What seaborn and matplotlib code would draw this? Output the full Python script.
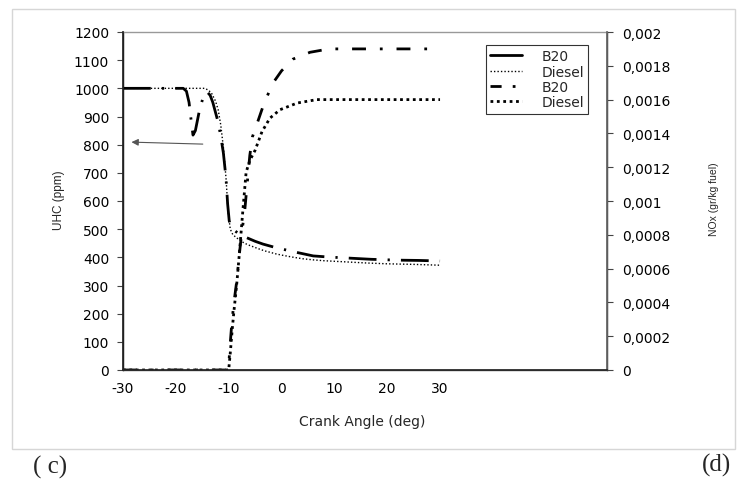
import matplotlib
matplotlib.use("Agg")
import matplotlib.pyplot as plt
import seaborn as sns
from matplotlib.lines import Line2D
from matplotlib.patches import Rectangle

# UHC curves (left axis, ppm)
uhc_b20_x = [-30, -20, -18.6, -18, -17.5, -17, -16.75, -16.3, -15.5, -14.8, -14.1, -13.5, -13, -12.5,
             -12, -11.5, -11, -10.5, -10.2, -9.9, -9.6, -9.2, -8, -7, -6, -5, -3.5, -1, 0, 2, 3.5,
             6, 9, 13, 17, 22, 26, 30]
uhc_b20_y = [1000, 1000, 1000, 990, 950, 870, 834, 850, 925, 970, 988, 975, 950, 915,
             880, 830, 770, 680, 590, 530, 507, 500, 482, 473, 465, 457, 447, 434, 430, 421, 415,
             405, 401, 397, 393, 390, 389, 387]

uhc_diesel_x = [-30, -20, -14.5, -14, -13.3, -12.5, -12, -11.5, -11, -10.5, -10.1, -9.7, -9.2, -8,
                -7, -6, -5, -4, -3, -2, -1, 0, 2, 4, 6, 8, 10, 13, 16, 20, 25, 30]
uhc_diesel_y = [1000, 1000, 1000, 995, 985, 955, 925, 870, 790, 680, 560, 500, 480, 462,
                450, 442, 435, 428, 422, 417, 412, 408, 401, 395, 391, 388, 386, 383, 380, 377, 375, 372]

# NOx curves (right axis, gr/kg fuel)
nox_b20_x = [-30, -20, -10.2, -10, -9.8, -9.4, -9, -8.5, -8, -7.5, -7, -6.5, -6, -5.5, -4.6, -3.5,
             -2.7, -1.8, 0, 2.2, 5.4, 9, 15, 20, 25, 30]
nox_b20_y = [0, 0, 0, 0.00002, 0.00012, 0.00028, 0.00040, 0.00052, 0.00068, 0.00082, 0.00093,
             0.00110, 0.00127, 0.00138, 0.00146, 0.00156, 0.00162, 0.00169, 0.00177, 0.00184,
             0.00188, 0.00190, 0.00190, 0.00190, 0.00190, 0.00190]

nox_diesel_x = [-30, -20, -10, -9.7, -9.3, -9, -8.5, -8, -7.3, -6.7, -6, -5, -3.7, -2.2, -0.3, 3,
                6.7, 10, 15, 20, 25, 30]
nox_diesel_y = [0, 0, 0, 0.0001, 0.00025, 0.00035, 0.0005, 0.00068, 0.00095, 0.00117, 0.00124,
                0.0013, 0.00141, 0.00149, 0.00154, 0.00158, 0.0016, 0.0016, 0.0016, 0.0016,
                0.0016, 0.0016]

x_ticks = [-30, -20, -10, 0, 10, 20, 30, 40, 50, 60]
x_ticklabels = ["-30", "-20", "-10", "0", "10", "20", "30", "", "", ""]
uhc_ticks = list(range(0, 1201, 100))
nox_ticks = [0, 0.0002, 0.0004, 0.0006, 0.0008, 0.001, 0.0012, 0.0014, 0.0016, 0.0018, 0.002]
nox_ticklabels = ["0", "0,0002", "0,0004", "0,0006", "0,0008", "0,001", "0,0012",
                  "0,0014", "0,0016", "0,0018", "0,002"]
legend_labels = ["B20", "Diesel", "B20", "Diesel"]

sns.set_theme(style="white")
plt.rcParams["font.family"] = ["Liberation Sans", "DejaVu Sans"]
W, H = 737, 485

fig = plt.figure(figsize=(W / 100, H / 100), dpi=100)
ax = fig.add_axes([123 / W, 1 - 371 / H, (607 - 123) / W, (371 - 33) / H])
ax2 = ax.twinx()

# outer light frame
fig.patches.append(Rectangle((12 / W, 1 - 450 / H), 735 / W - 12 / W, (450 - 10) / H,
                             transform=fig.transFigure, fill=False, edgecolor="#d6d6d6", lw=1))

s_b20 = (0, (10, 4, 0.8, 4))
s_nox_b20 = (0, (5, 5, 1, 5))

sns.lineplot(x=uhc_b20_x, y=uhc_b20_y, ax=ax, color="black", lw=2, linestyle=s_b20)
sns.lineplot(x=uhc_diesel_x, y=uhc_diesel_y, ax=ax, color="black", lw=1, linestyle=(0, (1, 1.5)))
sns.lineplot(x=nox_b20_x, y=nox_b20_y, ax=ax2, color="black", lw=2, linestyle=s_nox_b20)
sns.lineplot(x=nox_diesel_x, y=nox_diesel_y, ax=ax2, color="black", lw=2, linestyle=(0, (1, 1.3)))

ax.set_xlim(-30, 61.6)
ax.set_ylim(0, 1200)
ax2.set_ylim(0, 0.002)
ax.set_xticks(x_ticks)
ax.set_xticklabels(x_ticklabels)
ax.set_yticks(uhc_ticks)
ax2.set_yticks(nox_ticks)
ax2.set_yticklabels(nox_ticklabels)

tick_font = ["DejaVu Sans"]
for a in (ax, ax2):
    a.tick_params(axis="both", direction="out", length=4, width=0.8, color="#444444",
                  labelsize=10, labelcolor="black", pad=6)
    a.grid(False)
    for lab in a.get_xticklabels() + a.get_yticklabels():
        lab.set_family(tick_font)
ax.tick_params(axis="x", pad=4)
ax2.tick_params(axis="y", pad=7)
ax.spines["left"].set_color("black")
ax.spines["bottom"].set_color("#555555")
ax.spines["top"].set_color("#999999")
ax2.spines["right"].set_color("#666666")
ax2.spines["top"].set_visible(False)
for sp in ax.spines.values():
    sp.set_linewidth(1)

ax.set_xlabel("Crank Angle (deg)", fontsize=10, family=tick_font)
ax.set_ylabel("UHC (ppm)", fontsize=8.5)
ax2.set_ylabel("NOx (gr/kg fuel)", fontsize=7.5)
ax.xaxis.set_label_coords(362 / W, 1 - 415 / H, transform=fig.transFigure)
ax.yaxis.set_label_coords(65 / W, 1 - 200 / H, transform=fig.transFigure)
ax2.yaxis.set_label_coords(709 / W, 1 - 199 / H, transform=fig.transFigure)

# arrow pointing to the UHC axis
ax.annotate("", xy=(-28.4, 809), xytext=(-14.9, 802),
            arrowprops=dict(arrowstyle="-|>", color="#555555", lw=0.8,
                            mutation_scale=10, shrinkA=0, shrinkB=0))

handles = [Line2D([], [], color="black", lw=2),
           Line2D([], [], color="black", lw=1, linestyle=(0, (1, 1.5))),
           Line2D([], [], color="black", lw=2, linestyle=(0, (4, 4, 1, 4))),
           Line2D([], [], color="black", lw=2, linestyle=(0, (1, 1.3)))]
leg = fig.legend(handles, legend_labels, loc="upper left",
                 bbox_to_anchor=(486 / W, 1 - 46 / H), prop={"family": tick_font, "size": 10},
                 frameon=True, fancybox=False, edgecolor="black", handlelength=2.3,
                 borderaxespad=0, labelspacing=0.1, borderpad=0.3, handletextpad=1.4)
leg.get_frame().set_linewidth(0.8)

fig.text(33 / W, 1 - 467 / H, "( c)", family="Liberation Serif", fontsize=18, va="center")
fig.text(702 / W, 1 - 465 / H, "(d)", family="Liberation Serif", fontsize=18, va="center")

fig.savefig("out.png", dpi=100)
